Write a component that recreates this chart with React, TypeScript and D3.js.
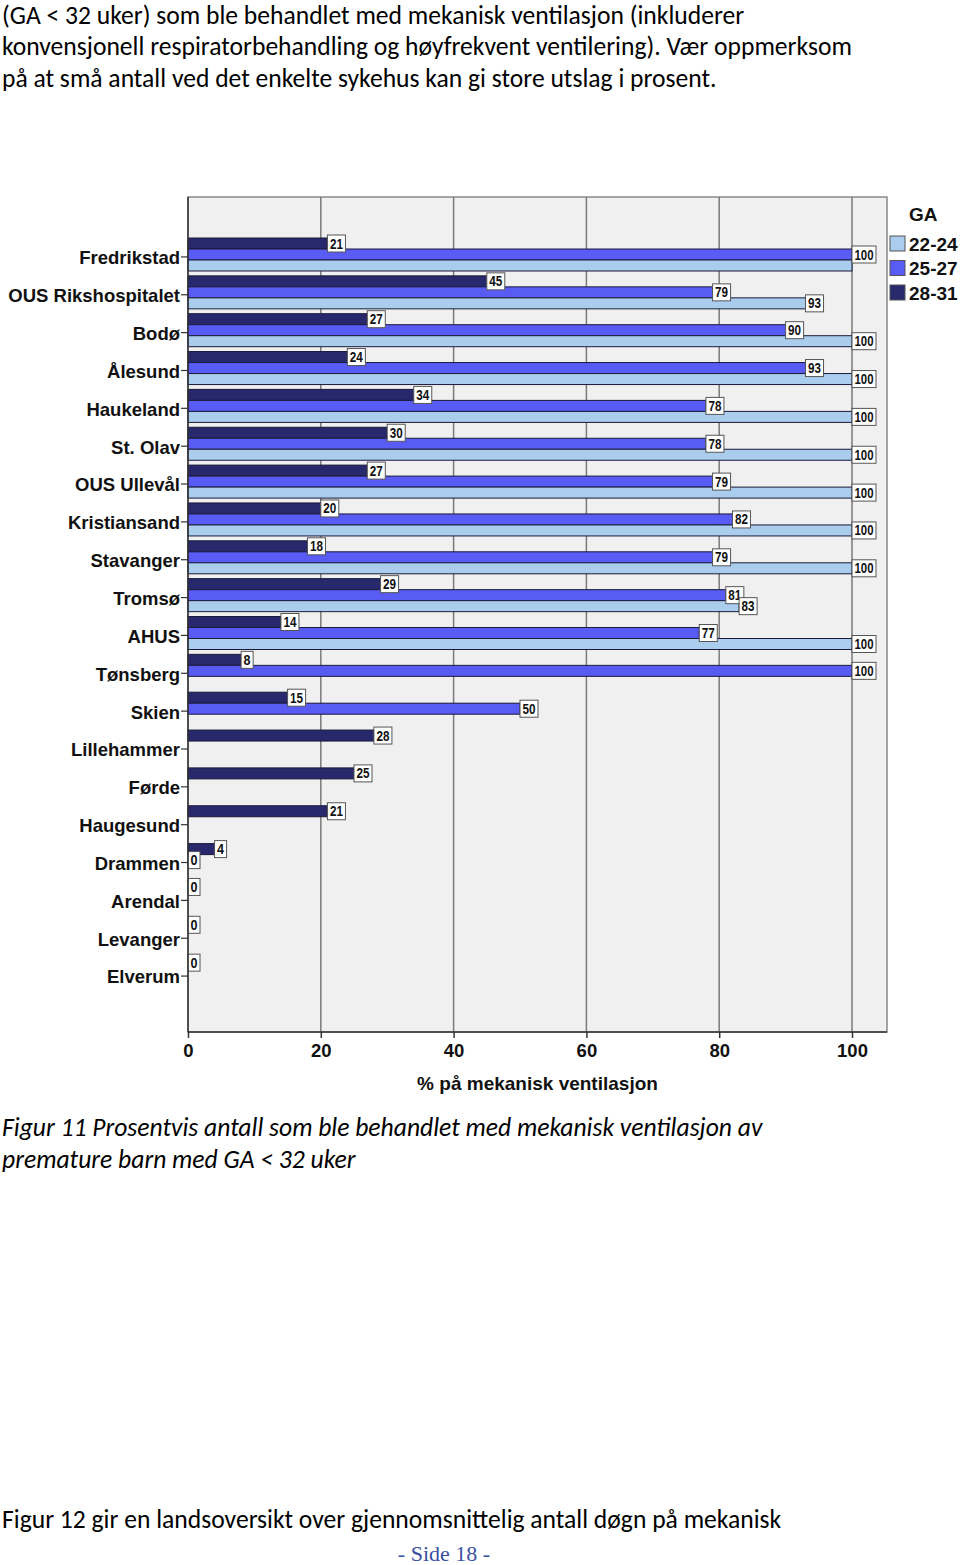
import * as d3 from "d3";
import { useEffect, useRef } from "react";

// sykehus (y-akse)
const hospitals = [
    "Fredrikstad", "OUS Rikshospitalet", "Bodø", "Ålesund", "Haukeland", "St. Olav",
    "OUS Ullevål", "Kristiansand", "Stavanger", "Tromsø", "AHUS", "Tønsberg", "Skien",
    "Lillehammer", "Førde", "Haugesund", "Drammen", "Arendal", "Levanger", "Elverum",
];

// prosent på mekanisk ventilasjon per GA-gruppe (null = ingen søyle)
const ga2831 = [21, 45, 27, 24, 34, 30, 27, 20, 18, 29, 14, 8, 15, 28, 25, 21, 4, 0, 0, 0];
const ga2527 = [100, 79, 90, 93, 78, 78, 79, 82, 79, 81, 77, 100, 50, null, null, null, 0, null, null, null];
const ga2224 = [100, 93, 100, 100, 100, 100, 100, 100, 100, 83, 100, null, null, null, null, null, null, null, null, null];

const groups = ["28-31", "25-27", "22-24"];
const legendOrder = ["22-24", "25-27", "28-31"];
const xTicks = [0, 20, 40, 60, 80, 100];

const colors: Record<string, string> = {
    "22-24": "#aacdee",
    "25-27": "#585cf4",
    "28-31": "#27296c",
};

const titleLines = [
    "(GA < 32 uker) som ble behandlet med mekanisk ventilasjon (inkluderer",
    "konvensjonell respiratorbehandling og høyfrekvent ventilering). Vær oppmerksom",
    "på at små antall ved det enkelte sykehus kan gi store utslag i prosent.",
];
const captionLines = [
    "Figur 11 Prosentvis antall som ble behandlet med mekanisk ventilasjon av",
    "premature barn med GA < 32 uker",
];

const W = 960;
const H = 1565;
const plot = { left: 188, right: 887, top: 197, bottom: 1032 };

const bodyFont = "Carlito, Lato, 'Noto Sans', sans-serif";
const chartFont = "'Liberation Sans', Arial, sans-serif";

export default function App() {
    const xAxisRef = useRef<SVGGElement>(null);
    const yAxisRef = useRef<SVGGElement>(null);

    const x = d3.scaleLinear([0, 100], [plot.left, 852]);
    const y = d3.scaleBand(hospitals, [238, 238 + 37.85 * hospitals.length]);
    const inner = d3.scaleBand(groups, [0, 33]);

    const seriesValues: Record<string, (number | null)[]> = {
        "28-31": ga2831,
        "25-27": ga2527,
        "22-24": ga2224,
    };

    type Bar = { cat: string; key: string; value: number; y: number; h: number };
    const bars: Bar[] = [];
    hospitals.forEach((cat, i) => {
        groups.forEach((key) => {
            const v = seriesValues[key][i];
            if (v === null || v === undefined) return;
            bars.push({ cat, key, value: v, y: (y(cat) ?? 0) + (inner(key) ?? 0), h: inner.bandwidth() });
        });
    });

    // verdietiketter, skjul de som overlapper
    type Lbl = { x: number; y: number; w: number; h: number; text: string };
    const labels: Lbl[] = [];
    bars.forEach((b) => {
        const text = String(b.value);
        const w = 6 + 6 * text.length;
        const lb = { x: x(b.value), y: b.y + b.h / 2 - 8.5, w, h: 17, text };
        const clash = labels.some((o) => {
            const ox = Math.min(o.x + o.w, lb.x + lb.w) - Math.max(o.x, lb.x);
            const oy = Math.min(o.y + o.h, lb.y + lb.h) - Math.max(o.y, lb.y);
            return ox > 6 && oy > 2;
        });
        if (!clash) labels.push(lb);
    });

    useEffect(() => {
        if (xAxisRef.current) {
            const g = d3.select(xAxisRef.current);
            g.call(d3.axisBottom(x).tickValues(xTicks).tickSize(6).tickPadding(6));
            g.select(".domain").remove();
            g.selectAll(".tick line").attr("stroke", "#333").attr("stroke-width", 1.5);
            g.selectAll(".tick text")
                .attr("font-family", chartFont)
                .attr("font-weight", "bold")
                .attr("font-size", 18.5)
                .attr("fill", "#111");
        }
        if (yAxisRef.current) {
            const g = d3.select(yAxisRef.current);
            g.call(d3.axisLeft(y).tickSize(7).tickPadding(1));
            g.select(".domain").remove();
            g.selectAll(".tick line").attr("stroke", "#333").attr("stroke-width", 1.2);
            g.selectAll(".tick text")
                .attr("font-family", chartFont)
                .attr("font-weight", "bold")
                .attr("font-size", 18.5)
                .attr("dy", "0.4em")
                .attr("fill", "#111");
        }
    }, []);

    return (
        <div style={{ position: "absolute", left: 0, top: 0 }}>
            <svg width={W} height={H} style={{ display: "block", background: "#fff" }}>
                {titleLines.map((t, i) => (
                    <text key={i} x={2} y={23.5 + i * 31.5} fontFamily={bodyFont} fontSize={25.6} fill="#000">
                        {t}
                    </text>
                ))}

                {/* plotteområde */}
                <rect x={plot.left} y={plot.top} width={plot.right - plot.left} height={plot.bottom - plot.top}
                      fill="#f0f0f0" stroke="#888" strokeWidth={1.5} />
                {xTicks.filter((t) => t > 0).map((t) => (
                    <line key={t} x1={x(t)} x2={x(t)} y1={plot.top} y2={plot.bottom} stroke="#7a7a7a" strokeWidth={1.5} />
                ))}

                <g>
                    {bars.map((b, i) => (
                        <rect key={i} x={x(0)} y={b.y} width={x(b.value) - x(0)} height={b.h}
                              fill={colors[b.key]} stroke="#1a1a3a" strokeWidth={1} />
                    ))}
                </g>

                <g>
                    {labels.map((l, i) => (
                        <g key={i}>
                            <rect x={l.x} y={l.y} width={l.w} height={l.h} fill="#fff" stroke="#555" strokeWidth={1} />
                            <text x={l.x + l.w / 2} y={l.y + 13.5} textAnchor="middle" fontFamily={chartFont}
                                  fontWeight="bold" fontSize={15} fill="#111"
                                  textLength={l.w - 5} lengthAdjust="spacingAndGlyphs">
                                {l.text}
                            </text>
                        </g>
                    ))}
                </g>

                {/* akser */}
                <line x1={plot.left} x2={plot.left} y1={plot.top} y2={plot.bottom} stroke="#333" strokeWidth={1.5} />
                <line x1={plot.left} x2={plot.right} y1={plot.bottom} y2={plot.bottom} stroke="#333" strokeWidth={1.5} />
                <g ref={xAxisRef} transform={`translate(0,${plot.bottom})`} />
                <g ref={yAxisRef} transform={`translate(${plot.left},0)`} />
                <text x={(plot.left + plot.right) / 2} y={1090} textAnchor="middle" fontFamily={chartFont}
                      fontWeight="bold" fontSize={19} fill="#111">
                    % på mekanisk ventilasjon
                </text>

                {/* legende */}
                <text x={909} y={221} fontFamily={chartFont} fontWeight="bold" fontSize={19} fill="#111">GA</text>
                {legendOrder.map((k, i) => (
                    <g key={k} transform={`translate(890,${236 + i * 24.5})`}>
                        <rect width={15} height={15} fill={colors[k]} stroke="#555" strokeWidth={1} />
                        <text x={19} y={14.5} fontFamily={chartFont} fontWeight="bold" fontSize={19} fill="#111">{k}</text>
                    </g>
                ))}

                {captionLines.map((t, i) => (
                    <text key={i} x={2} y={1136 + i * 32} fontFamily={bodyFont} fontStyle="italic" fontSize={25.6} fill="#000">
                        {t}
                    </text>
                ))}

                <text x={2} y={1528} fontFamily={bodyFont} fontSize={25.6} fill="#000">
                    Figur 12 gir en landsoversikt over gjennomsnittelig antall døgn på mekanisk
                </text>
                <text x={444} y={1561} textAnchor="middle" fontFamily="'Liberation Serif', serif" fontSize={22} fill="#3a4fa3">
                    -  Side 18  -
                </text>
            </svg>
        </div>
    );
}
